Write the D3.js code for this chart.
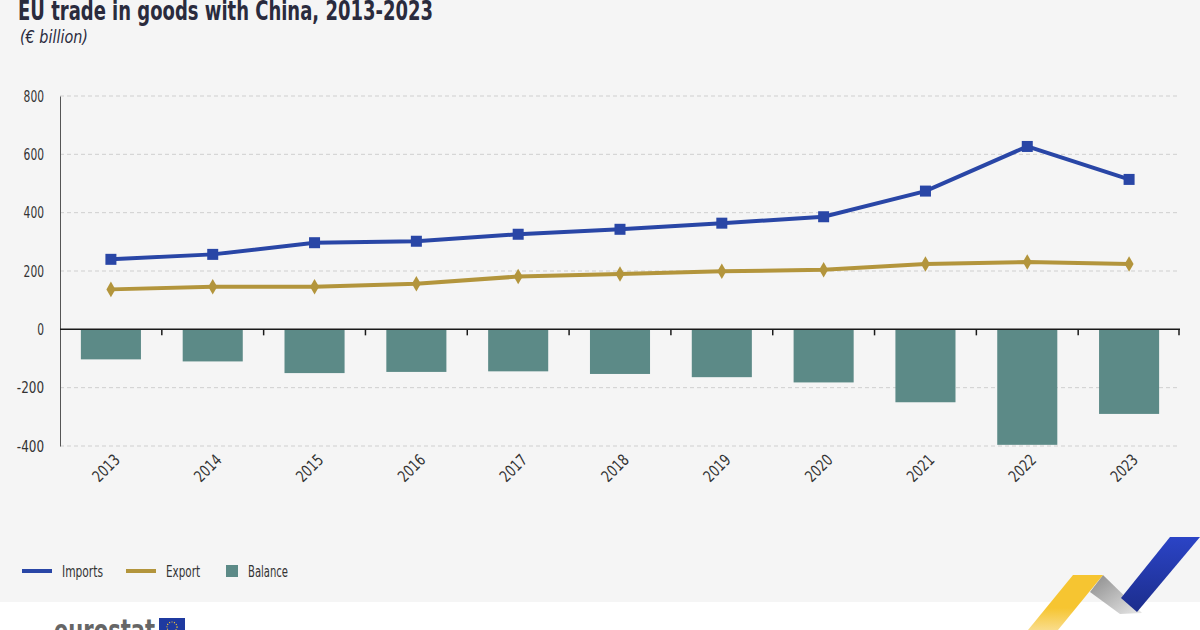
<!DOCTYPE html>
<html>
<head>
<meta charset="utf-8">
<script src="https://cdn.jsdelivr.net/npm/d3@7"></script>
<style>
  html, body { margin: 0; padding: 0; background: #fff; }
  svg { display: block; font-family: "DejaVu Sans Condensed", "DejaVu Sans", sans-serif; font-stretch: condensed; }
</style>
</head>
<body>
<svg id="chart" width="1200" height="630"></svg>
<script>
const years = ["2013", "2014", "2015", "2016", "2017", "2018", "2019", "2020", "2021", "2022", "2023"];
const imports = [240, 257, 297, 302, 326, 343, 364, 386, 474, 627, 514];
const exports = [137, 146, 146, 156, 181, 190, 199, 204, 224, 231, 224];
const balance = [-103, -110, -150, -146, -144, -153, -164, -182, -250, -396, -290];
const yTicks = [-400, -200, 0, 200, 400, 600, 800];

const seriesNames = ["Imports", "Export", "Balance"];
const colors = { Imports: "#2946a6", Export: "#b3953c", Balance: "#5c8a87" };

const svg = d3.select("#chart");
const W = 1200, H = 630;

// background panel
svg.append("rect").attr("width", W).attr("height", 602).attr("fill", "#f5f5f5");

const margin = { top: 96, left: 60, right: 20 };

const x = d3.scaleBand().domain(years).range([margin.left, 1180]).paddingInner(0.41).paddingOuter(0.205);
const xEdge = d3.scaleBand().domain(years).range([margin.left, 1180]);
const y = d3.scaleLinear().domain([-400, 800]).range([446, 96]);

// gridlines
svg.append("g")
  .selectAll("line")
  .data(yTicks.filter(d => d !== 0))
  .join("line")
  .attr("x1", margin.left).attr("x2", 1180)
  .attr("y1", d => y(d)).attr("y2", d => y(d))
  .attr("stroke", "#cfcfcf").attr("stroke-width", 1).attr("stroke-dasharray", "4,3");

// y axis
const yAxis = svg.append("g")
  .attr("transform", "translate(" + margin.left + ",0)")
  .call(d3.axisLeft(y).tickValues(yTicks).tickSize(0).tickPadding(16).tickFormat(d => String(d)));
yAxis.select(".domain").attr("stroke", "#555");
yAxis.selectAll("text").style("font-size", "16px").attr("fill", "#333")
  .style("font-family", "'DejaVu Sans Condensed', 'DejaVu Sans', sans-serif")
  .attr("textLength", d => String(d).length * 6.8).attr("lengthAdjust", "spacingAndGlyphs");

// bars
svg.append("g")
  .selectAll("rect")
  .data(years.map((yr, i) => ({ yr, v: balance[i] })))
  .join("rect")
  .attr("x", d => x(d.yr))
  .attr("width", x.bandwidth())
  .attr("y", d => y(Math.max(0, d.v)))
  .attr("height", d => Math.abs(y(d.v) - y(0)))
  .attr("fill", colors.Balance);

// zero line with band ticks
svg.append("line").attr("x1", margin.left).attr("x2", 1180)
  .attr("y1", y(0)).attr("y2", y(0)).attr("stroke", "#1a1a1a").attr("stroke-width", 1.5);
svg.append("g").selectAll("line")
  .data(years.slice(1).concat(["end"]))
  .join("line")
  .attr("x1", d => d === "end" ? 1179 : xEdge(d)).attr("x2", d => d === "end" ? 1179 : xEdge(d))
  .attr("y1", y(0)).attr("y2", y(0) + 6)
  .attr("stroke", "#1a1a1a").attr("stroke-width", 1.5);

// x labels
const xc = d => x(d) + x.bandwidth() / 2;
svg.append("g").selectAll("text")
  .data(years)
  .join("text")
  .attr("transform", d => "translate(" + (xc(d) + 10) + ",461) rotate(-45)")
  .attr("text-anchor", "end")
  .style("font-size", "16px")
  .attr("fill", "#333")
  .attr("textLength", 31).attr("lengthAdjust", "spacingAndGlyphs")
  .text(d => d);

// lines
const line = d3.line().x((d, i) => xc(years[i])).y(d => y(d));
svg.append("path").datum(exports).attr("fill", "none").attr("stroke", colors.Export)
  .attr("stroke-width", 4).attr("d", line);
svg.append("g").selectAll("path")
  .data(exports)
  .join("path")
  .attr("transform", (d, i) => "translate(" + xc(years[i]) + "," + y(d) + ")")
  .attr("d", d3.symbol(d3.symbolDiamond, 70))
  .attr("fill", colors.Export);

svg.append("path").datum(imports).attr("fill", "none").attr("stroke", colors.Imports)
  .attr("stroke-width", 4).attr("d", line);
svg.append("g").selectAll("rect")
  .data(imports)
  .join("rect")
  .attr("x", (d, i) => xc(years[i]) - 5.5)
  .attr("y", d => y(d) - 5.5)
  .attr("width", 11).attr("height", 11)
  .attr("fill", colors.Imports);

// title
svg.append("text").attr("x", 18).attr("y", 20)
  .style("font-size", "26px").style("font-weight", "bold").attr("fill", "#2a2b3d")
  .attr("textLength", 415).attr("lengthAdjust", "spacingAndGlyphs")
  .text("EU trade in goods with China, 2013-2023");
svg.append("text").attr("x", 20).attr("y", 43)
  .style("font-size", "17px").style("font-style", "italic").attr("fill", "#2a2b3d")
  .attr("textLength", 68).attr("lengthAdjust", "spacingAndGlyphs")
  .text("(€ billion)");

// legend
const legendX = [22, 126, 226];
const legendTextW = { Imports: 41, Export: 34, Balance: 40 };
const legend = svg.append("g").selectAll("g")
  .data(seriesNames)
  .join("g")
  .attr("transform", (d, i) => "translate(" + legendX[i] + ",571)");
legend.filter(d => d !== "Balance").append("line")
  .attr("x1", 0).attr("x2", 30).attr("y1", 0).attr("y2", 0)
  .attr("stroke", d => colors[d]).attr("stroke-width", 4);
legend.filter(d => d === "Balance").append("rect")
  .attr("x", 0).attr("y", -6).attr("width", 12).attr("height", 12)
  .attr("fill", colors.Balance);
legend.append("text")
  .attr("x", d => d === "Balance" ? 22 : 40).attr("y", 6)
  .style("font-size", "16px").attr("fill", "#333")
  .attr("textLength", d => legendTextW[d]).attr("lengthAdjust", "spacingAndGlyphs")
  .text(d => d);

// eurostat logo (partly cut off at the bottom, as in the original)
svg.append("text").attr("x", 54).attr("y", 641)
  .style("font-size", "30px").style("font-weight", "bold").attr("fill", "#666")
  .attr("textLength", 101).attr("lengthAdjust", "spacingAndGlyphs")
  .text("eurostat");
svg.append("rect").attr("x", 159).attr("y", 618).attr("width", 26).attr("height", 14).attr("fill", "#1f3aa0");
svg.append("circle").attr("cx", 172).attr("cy", 627).attr("r", 5)
  .attr("fill", "none").attr("stroke", "#f4c531").attr("stroke-width", 1.2).attr("stroke-dasharray", "1,1.5");

// corner ribbons
const defs = svg.append("defs");
const gg = defs.append("linearGradient").attr("id", "gray").attr("x1", "0").attr("x2", "1").attr("y1", "0").attr("y2", "1");
gg.append("stop").attr("offset", "0").attr("stop-color", "#8a8a8a");
gg.append("stop").attr("offset", "1").attr("stop-color", "#e8e8e8");
const yg = defs.append("linearGradient").attr("id", "yel").attr("x1", "0").attr("x2", "0").attr("y1", "0").attr("y2", "1");
yg.append("stop").attr("offset", "0.6").attr("stop-color", "#f6c531");
yg.append("stop").attr("offset", "1").attr("stop-color", "#f9dc8a");
const bg = defs.append("linearGradient").attr("id", "blu").attr("x1", "0").attr("x2", "0").attr("y1", "0").attr("y2", "1");
bg.append("stop").attr("offset", "0").attr("stop-color", "#2b44c6");
bg.append("stop").attr("offset", "1").attr("stop-color", "#1c2d8c");
const rib = d3.line();
svg.append("path").attr("d", rib([[1090, 592], [1103, 575], [1142, 613], [1120, 614]]) + "Z").attr("fill", "url(#gray)");
svg.append("path").attr("d", rib([[1073, 575], [1103, 575], [1058, 630], [1028, 630]]) + "Z").attr("fill", "url(#yel)");
svg.append("path").attr("d", rib([[1170, 537], [1200, 537], [1137, 612], [1121, 598]]) + "Z").attr("fill", "url(#blu)");
</script>
</body>
</html>
